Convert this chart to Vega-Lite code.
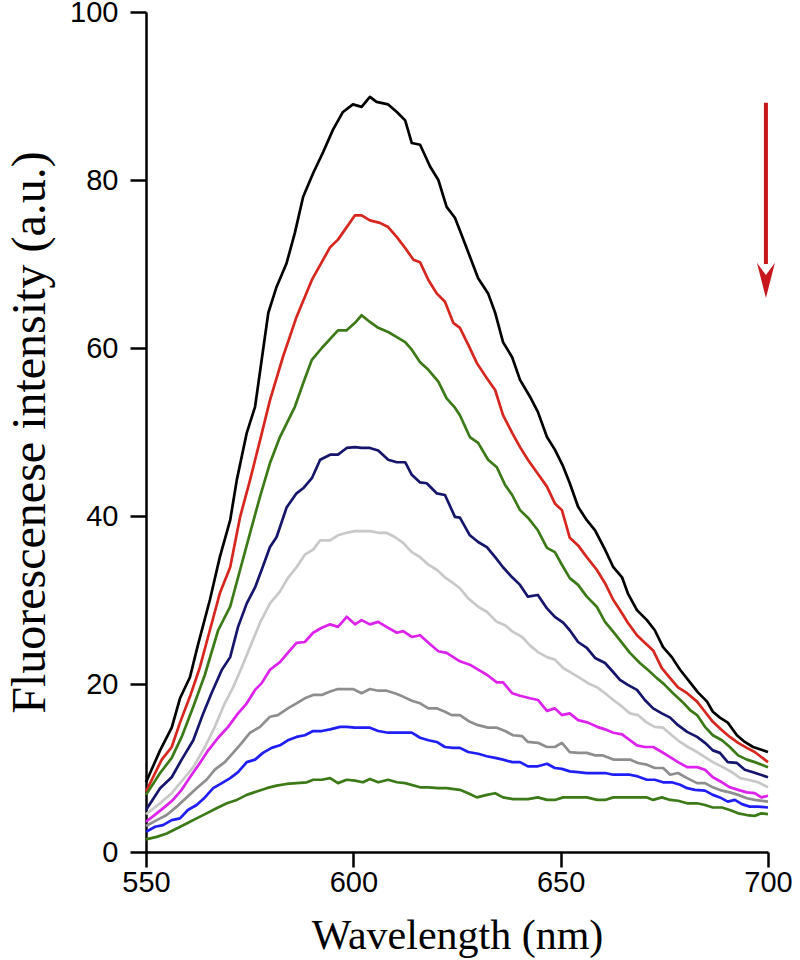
{
"$schema":"https://vega.github.io/schema/vega-lite/v6.json",
"width":622,"height":840,
"autosize":{"type":"none"},
"padding":{"left":146,"top":12,"right":32,"bottom":108},
"background":"white",
"config":{"view":{"stroke":null},
"axis":{"grid":false,"domainColor":"black","domainWidth":2.5,"tickColor":"black","tickWidth":2.5,"tickSize":15,"labelFont":"Liberation Sans","labelFontSize":29,"labelColor":"black","labelFlush":false,"titleFont":"Liberation Serif","titleFontWeight":"normal","titleColor":"black"}},
"datasets":{
"spectra":[
{"s":"c1","w":550,"v":8.3},{"s":"c1","w":553.4,"v":12.1},{"s":"c1","w":556.2,"v":14.8},{"s":"c1","w":558.2,"v":18.3},{"s":"c1","w":560.6,"v":20.8},{"s":"c1","w":562.5,"v":24.6},{"s":"c1","w":565.4,"v":30},{"s":"c1","w":567.8,"v":35.1},{"s":"c1","w":570.3,"v":39.5},{"s":"c1","w":571.9,"v":44.3},{"s":"c1","w":574.3,"v":49.9},{"s":"c1","w":576.3,"v":53},{"s":"c1","w":577.9,"v":58.6},{"s":"c1","w":579.5,"v":64.2},{"s":"c1","w":581.5,"v":67.3},{"s":"c1","w":583.9,"v":70.1},{"s":"c1","w":585.9,"v":73.7},{"s":"c1","w":587.9,"v":78},{"s":"c1","w":590.3,"v":80.8},{"s":"c1","w":592.7,"v":83.3},{"s":"c1","w":595.1,"v":86},{"s":"c1","w":597.5,"v":88.1},{"s":"c1","w":599.9,"v":89},{"s":"c1","w":602,"v":88.7},{"s":"c1","w":604,"v":89.9},{"s":"c1","w":605.6,"v":89.3},{"s":"c1","w":608.4,"v":89},{"s":"c1","w":610.5,"v":88.1},{"s":"c1","w":612.5,"v":87.1},{"s":"c1","w":614.1,"v":84.4},{"s":"c1","w":616.1,"v":84.2},{"s":"c1","w":618.5,"v":81.6},{"s":"c1","w":620.5,"v":80},{"s":"c1","w":622.5,"v":76.8},{"s":"c1","w":624.5,"v":75.5},{"s":"c1","w":625.7,"v":74},{"s":"c1","w":628.1,"v":70.9},{"s":"c1","w":630.1,"v":68.3},{"s":"c1","w":632.5,"v":66.5},{"s":"c1","w":634.2,"v":64.2},{"s":"c1","w":636.1,"v":60.7},{"s":"c1","w":638.3,"v":58.9},{"s":"c1","w":640.2,"v":56.2},{"s":"c1","w":642.6,"v":54.2},{"s":"c1","w":644.5,"v":52.4},{"s":"c1","w":646.7,"v":49.4},{"s":"c1","w":648.6,"v":47.9},{"s":"c1","w":650.6,"v":45.9},{"s":"c1","w":652.2,"v":43.9},{"s":"c1","w":654.2,"v":41.1},{"s":"c1","w":656.3,"v":39.5},{"s":"c1","w":658.3,"v":38.3},{"s":"c1","w":660.7,"v":36},{"s":"c1","w":662.7,"v":33.9},{"s":"c1","w":664.8,"v":32.7},{"s":"c1","w":666.2,"v":30.8},{"s":"c1","w":668.4,"v":28.8},{"s":"c1","w":670.8,"v":27.6},{"s":"c1","w":672.7,"v":26.4},{"s":"c1","w":674.7,"v":24.4},{"s":"c1","w":676.8,"v":23.2},{"s":"c1","w":678.8,"v":21.7},{"s":"c1","w":681.2,"v":20.2},{"s":"c1","w":683.1,"v":19},{"s":"c1","w":685.3,"v":17.9},{"s":"c1","w":686.7,"v":16.7},{"s":"c1","w":688.4,"v":16},{"s":"c1","w":690.3,"v":15.4},{"s":"c1","w":692.5,"v":13.9},{"s":"c1","w":694.4,"v":13.1},{"s":"c1","w":696.4,"v":12.5},{"s":"c1","w":700,"v":11.9},
{"s":"c2","w":550,"v":7.2},{"s":"c2","w":553.8,"v":11},{"s":"c2","w":556.2,"v":12.5},{"s":"c2","w":558.2,"v":15.4},{"s":"c2","w":560.6,"v":18.5},{"s":"c2","w":563,"v":22},{"s":"c2","w":565.4,"v":26.4},{"s":"c2","w":567.8,"v":30.8},{"s":"c2","w":570.3,"v":33.9},{"s":"c2","w":572.7,"v":39.9},{"s":"c2","w":575.1,"v":44.3},{"s":"c2","w":577.5,"v":49},{"s":"c2","w":579.9,"v":53.8},{"s":"c2","w":583,"v":58.9},{"s":"c2","w":586.3,"v":63.7},{"s":"c2","w":590,"v":68.1},{"s":"c2","w":594.4,"v":72},{"s":"c2","w":596.3,"v":72.9},{"s":"c2","w":600.4,"v":75.8},{"s":"c2","w":602,"v":75.8},{"s":"c2","w":604,"v":75.2},{"s":"c2","w":606.4,"v":74.9},{"s":"c2","w":608.4,"v":74.4},{"s":"c2","w":610.5,"v":73.2},{"s":"c2","w":612.5,"v":71.9},{"s":"c2","w":614.5,"v":70.5},{"s":"c2","w":616.1,"v":70.2},{"s":"c2","w":618.1,"v":68.1},{"s":"c2","w":620.1,"v":66.5},{"s":"c2","w":622.1,"v":65.5},{"s":"c2","w":624.1,"v":63},{"s":"c2","w":625.7,"v":62.4},{"s":"c2","w":627.7,"v":60.4},{"s":"c2","w":629.8,"v":58.2},{"s":"c2","w":632.2,"v":56.4},{"s":"c2","w":634.2,"v":55},{"s":"c2","w":636.1,"v":52},{"s":"c2","w":638.3,"v":49.9},{"s":"c2","w":640.2,"v":48.2},{"s":"c2","w":642.1,"v":46.7},{"s":"c2","w":644.4,"v":45.1},{"s":"c2","w":646.7,"v":43.5},{"s":"c2","w":648.6,"v":41.5},{"s":"c2","w":650.3,"v":40.7},{"s":"c2","w":652.2,"v":37.4},{"s":"c2","w":654.2,"v":36.5},{"s":"c2","w":656.3,"v":35.1},{"s":"c2","w":658.7,"v":33.6},{"s":"c2","w":660.7,"v":32},{"s":"c2","w":662.7,"v":30},{"s":"c2","w":664.3,"v":28.8},{"s":"c2","w":666.2,"v":27.3},{"s":"c2","w":668.4,"v":25.8},{"s":"c2","w":670.3,"v":24.9},{"s":"c2","w":672.3,"v":24},{"s":"c2","w":674.4,"v":21.9},{"s":"c2","w":676.4,"v":20.7},{"s":"c2","w":678.3,"v":19.6},{"s":"c2","w":680.5,"v":18.9},{"s":"c2","w":682.9,"v":17.9},{"s":"c2","w":684.8,"v":16.7},{"s":"c2","w":686.7,"v":15.5},{"s":"c2","w":688.9,"v":14.5},{"s":"c2","w":690.8,"v":13.7},{"s":"c2","w":692.8,"v":13},{"s":"c2","w":694.9,"v":12.4},{"s":"c2","w":696.8,"v":11.9},{"s":"c2","w":700,"v":10.7},
{"s":"c3","w":550,"v":6.8},{"s":"c3","w":553.4,"v":9.4},{"s":"c3","w":556.2,"v":11.2},{"s":"c3","w":558.6,"v":13.7},{"s":"c3","w":561.4,"v":17.3},{"s":"c3","w":564.2,"v":21.1},{"s":"c3","w":567.4,"v":26.4},{"s":"c3","w":570.3,"v":29.2},{"s":"c3","w":572.7,"v":33.6},{"s":"c3","w":575.1,"v":38},{"s":"c3","w":577.5,"v":42.3},{"s":"c3","w":579.9,"v":46.3},{"s":"c3","w":582.3,"v":49.4},{"s":"c3","w":585.9,"v":53},{"s":"c3","w":587.9,"v":55.8},{"s":"c3","w":590,"v":58.6},{"s":"c3","w":592.4,"v":60},{"s":"c3","w":594.8,"v":61.3},{"s":"c3","w":596.3,"v":62.1},{"s":"c3","w":598.4,"v":62.1},{"s":"c3","w":600.4,"v":63},{"s":"c3","w":602,"v":63.9},{"s":"c3","w":604,"v":63.1},{"s":"c3","w":606,"v":62.4},{"s":"c3","w":608.4,"v":61.9},{"s":"c3","w":610.5,"v":61.3},{"s":"c3","w":612.5,"v":60.7},{"s":"c3","w":614.1,"v":59.8},{"s":"c3","w":616.1,"v":58.3},{"s":"c3","w":618.1,"v":57.4},{"s":"c3","w":620.5,"v":56},{"s":"c3","w":622.5,"v":54},{"s":"c3","w":624.5,"v":52.9},{"s":"c3","w":625.7,"v":52},{"s":"c3","w":628.1,"v":49.4},{"s":"c3","w":630.1,"v":48.7},{"s":"c3","w":632.5,"v":46.7},{"s":"c3","w":634.6,"v":45.8},{"s":"c3","w":636.6,"v":43.7},{"s":"c3","w":638.3,"v":42.5},{"s":"c3","w":640.2,"v":40.7},{"s":"c3","w":642.1,"v":39.8},{"s":"c3","w":644.5,"v":38.3},{"s":"c3","w":646.7,"v":36.2},{"s":"c3","w":648.6,"v":35.7},{"s":"c3","w":650.3,"v":34.2},{"s":"c3","w":652.2,"v":32.6},{"s":"c3","w":654.2,"v":31.8},{"s":"c3","w":656.3,"v":30.4},{"s":"c3","w":658.7,"v":29.2},{"s":"c3","w":660.7,"v":27.4},{"s":"c3","w":662.7,"v":26.2},{"s":"c3","w":664.8,"v":24.9},{"s":"c3","w":666.7,"v":23.7},{"s":"c3","w":669.1,"v":22.5},{"s":"c3","w":671,"v":21.7},{"s":"c3","w":673.2,"v":20.7},{"s":"c3","w":675.1,"v":19.9},{"s":"c3","w":677.1,"v":18.9},{"s":"c3","w":679.3,"v":17.9},{"s":"c3","w":681.2,"v":16.9},{"s":"c3","w":682.9,"v":16.3},{"s":"c3","w":684.8,"v":14.9},{"s":"c3","w":686.7,"v":13.9},{"s":"c3","w":688.9,"v":13.3},{"s":"c3","w":690.8,"v":12.5},{"s":"c3","w":692.8,"v":11.5},{"s":"c3","w":694.9,"v":11},{"s":"c3","w":696.8,"v":10.7},{"s":"c3","w":700,"v":10.1},
{"s":"c4","w":550,"v":5},{"s":"c4","w":553.4,"v":7.6},{"s":"c4","w":556.2,"v":8.9},{"s":"c4","w":558.6,"v":11},{"s":"c4","w":561.4,"v":13.3},{"s":"c4","w":563.8,"v":16.5},{"s":"c4","w":565.8,"v":18.9},{"s":"c4","w":568.3,"v":21.7},{"s":"c4","w":570.3,"v":23.2},{"s":"c4","w":572.2,"v":26.8},{"s":"c4","w":574.3,"v":29.6},{"s":"c4","w":576.3,"v":31.5},{"s":"c4","w":577.9,"v":33.6},{"s":"c4","w":579.9,"v":36.3},{"s":"c4","w":581.5,"v":37.5},{"s":"c4","w":583.9,"v":41},{"s":"c4","w":586.3,"v":42.7},{"s":"c4","w":587.9,"v":43.3},{"s":"c4","w":590,"v":44.5},{"s":"c4","w":592,"v":46.7},{"s":"c4","w":594.4,"v":47.3},{"s":"c4","w":596.3,"v":47.3},{"s":"c4","w":598.4,"v":48.1},{"s":"c4","w":600.4,"v":48.2},{"s":"c4","w":602,"v":48.1},{"s":"c4","w":604,"v":48.1},{"s":"c4","w":606,"v":47.8},{"s":"c4","w":608.4,"v":46.7},{"s":"c4","w":610.5,"v":46.4},{"s":"c4","w":612.5,"v":46.4},{"s":"c4","w":614.1,"v":44.9},{"s":"c4","w":616.1,"v":44},{"s":"c4","w":617.7,"v":43.9},{"s":"c4","w":620.1,"v":42.7},{"s":"c4","w":622.1,"v":42.5},{"s":"c4","w":624.5,"v":39.9},{"s":"c4","w":625.7,"v":39.8},{"s":"c4","w":628.1,"v":37.7},{"s":"c4","w":630.1,"v":36.9},{"s":"c4","w":632.2,"v":36.3},{"s":"c4","w":634.2,"v":35.1},{"s":"c4","w":636.1,"v":33.9},{"s":"c4","w":638.3,"v":32.7},{"s":"c4","w":640.2,"v":31.8},{"s":"c4","w":642.1,"v":30.4},{"s":"c4","w":644.5,"v":30.6},{"s":"c4","w":646.7,"v":29},{"s":"c4","w":648.6,"v":28},{"s":"c4","w":650.6,"v":27.3},{"s":"c4","w":652.2,"v":26.4},{"s":"c4","w":654.2,"v":25},{"s":"c4","w":656.3,"v":24.3},{"s":"c4","w":658.3,"v":23.1},{"s":"c4","w":660.7,"v":22.5},{"s":"c4","w":662.7,"v":21.4},{"s":"c4","w":664.3,"v":20.5},{"s":"c4","w":666.2,"v":19.9},{"s":"c4","w":668.4,"v":19.3},{"s":"c4","w":670.3,"v":18.1},{"s":"c4","w":672.3,"v":17.1},{"s":"c4","w":674.4,"v":16.5},{"s":"c4","w":676.4,"v":16},{"s":"c4","w":678.3,"v":15.1},{"s":"c4","w":680.5,"v":14.3},{"s":"c4","w":682.9,"v":13.7},{"s":"c4","w":684.8,"v":13},{"s":"c4","w":686.7,"v":12.1},{"s":"c4","w":688.4,"v":11.8},{"s":"c4","w":690.3,"v":10.7},{"s":"c4","w":692.5,"v":10.6},{"s":"c4","w":694.4,"v":9.8},{"s":"c4","w":696.4,"v":9.5},{"s":"c4","w":700,"v":8.9},
{"s":"c5","w":550,"v":4.5},{"s":"c5","w":553.4,"v":5.8},{"s":"c5","w":556.2,"v":7},{"s":"c5","w":558.9,"v":8.6},{"s":"c5","w":561.4,"v":10.1},{"s":"c5","w":564.2,"v":12.5},{"s":"c5","w":566.6,"v":14.9},{"s":"c5","w":569,"v":17.7},{"s":"c5","w":571,"v":19.6},{"s":"c5","w":573.1,"v":22},{"s":"c5","w":575.1,"v":24.4},{"s":"c5","w":577.5,"v":27.3},{"s":"c5","w":579.9,"v":29.6},{"s":"c5","w":582.3,"v":31},{"s":"c5","w":584.2,"v":32.6},{"s":"c5","w":586.3,"v":33.9},{"s":"c5","w":588.3,"v":35.4},{"s":"c5","w":590.3,"v":36},{"s":"c5","w":592,"v":37.1},{"s":"c5","w":594.4,"v":37.1},{"s":"c5","w":596.3,"v":37.7},{"s":"c5","w":598.4,"v":38},{"s":"c5","w":600.4,"v":38.2},{"s":"c5","w":604,"v":38.2},{"s":"c5","w":606,"v":38},{"s":"c5","w":608,"v":38},{"s":"c5","w":610,"v":37.5},{"s":"c5","w":612,"v":36.8},{"s":"c5","w":614.1,"v":35.7},{"s":"c5","w":616.1,"v":35.1},{"s":"c5","w":618.1,"v":34.2},{"s":"c5","w":620.1,"v":33.6},{"s":"c5","w":622.1,"v":32.7},{"s":"c5","w":624.1,"v":32},{"s":"c5","w":625.7,"v":31.4},{"s":"c5","w":627.7,"v":30.2},{"s":"c5","w":630.1,"v":29.2},{"s":"c5","w":632.2,"v":28.6},{"s":"c5","w":634.6,"v":27.4},{"s":"c5","w":636.6,"v":27},{"s":"c5","w":638.5,"v":26.2},{"s":"c5","w":640.7,"v":25.6},{"s":"c5","w":642.6,"v":24.6},{"s":"c5","w":644.5,"v":23.8},{"s":"c5","w":646.7,"v":23.2},{"s":"c5","w":648.6,"v":22.9},{"s":"c5","w":650.6,"v":21.9},{"s":"c5","w":652.7,"v":21.3},{"s":"c5","w":654.7,"v":20.7},{"s":"c5","w":656.6,"v":20.1},{"s":"c5","w":658.8,"v":19.6},{"s":"c5","w":660.7,"v":18.9},{"s":"c5","w":662.7,"v":18.1},{"s":"c5","w":664.8,"v":17.3},{"s":"c5","w":666.7,"v":16.5},{"s":"c5","w":668.6,"v":16.3},{"s":"c5","w":670.8,"v":15.4},{"s":"c5","w":672.7,"v":14.9},{"s":"c5","w":674.7,"v":14.8},{"s":"c5","w":676.8,"v":13.9},{"s":"c5","w":678.8,"v":13.1},{"s":"c5","w":680.7,"v":12.5},{"s":"c5","w":682.9,"v":11.9},{"s":"c5","w":684.8,"v":11.3},{"s":"c5","w":686.7,"v":10.7},{"s":"c5","w":689.1,"v":10.1},{"s":"c5","w":691.3,"v":9.5},{"s":"c5","w":693.3,"v":8.8},{"s":"c5","w":695.2,"v":8.6},{"s":"c5","w":697.6,"v":8.3},{"s":"c5","w":700,"v":7.7},
{"s":"c6","w":550,"v":3.6},{"s":"c6","w":552.6,"v":4.6},{"s":"c6","w":554.6,"v":5.4},{"s":"c6","w":556.5,"v":6.2},{"s":"c6","w":558.6,"v":7.4},{"s":"c6","w":560.6,"v":8.9},{"s":"c6","w":563,"v":10.6},{"s":"c6","w":565,"v":12.1},{"s":"c6","w":567.4,"v":13.6},{"s":"c6","w":569.8,"v":14.9},{"s":"c6","w":572.2,"v":16.5},{"s":"c6","w":574.3,"v":17.7},{"s":"c6","w":576.3,"v":19.3},{"s":"c6","w":577.9,"v":20.1},{"s":"c6","w":579.9,"v":21.7},{"s":"c6","w":582.3,"v":22.6},{"s":"c6","w":584.2,"v":23.7},{"s":"c6","w":586.3,"v":24.9},{"s":"c6","w":588.3,"v":25},{"s":"c6","w":590.3,"v":26.1},{"s":"c6","w":592.4,"v":26.7},{"s":"c6","w":594.4,"v":27.1},{"s":"c6","w":596.3,"v":26.8},{"s":"c6","w":598.4,"v":28},{"s":"c6","w":600.4,"v":27.1},{"s":"c6","w":602,"v":27.6},{"s":"c6","w":604,"v":27.1},{"s":"c6","w":606,"v":27.4},{"s":"c6","w":608,"v":26.8},{"s":"c6","w":610.5,"v":26.1},{"s":"c6","w":612,"v":26.3},{"s":"c6","w":614.1,"v":25.6},{"s":"c6","w":616.1,"v":25.8},{"s":"c6","w":618.1,"v":24.9},{"s":"c6","w":620.5,"v":23.9},{"s":"c6","w":622.5,"v":23.7},{"s":"c6","w":625.7,"v":22.7},{"s":"c6","w":628.1,"v":22.3},{"s":"c6","w":630.1,"v":21.7},{"s":"c6","w":632.2,"v":21.1},{"s":"c6","w":634.6,"v":20.2},{"s":"c6","w":636.1,"v":20.2},{"s":"c6","w":638.3,"v":18.9},{"s":"c6","w":640.2,"v":18.6},{"s":"c6","w":642.6,"v":18.3},{"s":"c6","w":644.5,"v":18.1},{"s":"c6","w":646.7,"v":16.8},{"s":"c6","w":648.6,"v":17.1},{"s":"c6","w":650.3,"v":16.3},{"s":"c6","w":652.2,"v":16.5},{"s":"c6","w":654.2,"v":15.7},{"s":"c6","w":656.6,"v":15.4},{"s":"c6","w":658.8,"v":14.9},{"s":"c6","w":660.7,"v":14.6},{"s":"c6","w":662.7,"v":14.2},{"s":"c6","w":664.8,"v":14},{"s":"c6","w":666.2,"v":13.5},{"s":"c6","w":668.4,"v":12.7},{"s":"c6","w":670.3,"v":12.5},{"s":"c6","w":672.3,"v":12.5},{"s":"c6","w":674.4,"v":11.9},{"s":"c6","w":676.4,"v":11.3},{"s":"c6","w":678.3,"v":10.7},{"s":"c6","w":680.5,"v":10.1},{"s":"c6","w":682.9,"v":10.1},{"s":"c6","w":684.8,"v":9.8},{"s":"c6","w":686.7,"v":8.9},{"s":"c6","w":688.9,"v":8.3},{"s":"c6","w":690.8,"v":7.7},{"s":"c6","w":692.8,"v":7.4},{"s":"c6","w":694.9,"v":7.1},{"s":"c6","w":696.8,"v":7},{"s":"c6","w":698.4,"v":6.5},{"s":"c6","w":700,"v":6.7},
{"s":"c7","w":550,"v":3.1},{"s":"c7","w":552.6,"v":3.8},{"s":"c7","w":555,"v":4.4},{"s":"c7","w":557.4,"v":5.4},{"s":"c7","w":559.8,"v":6.5},{"s":"c7","w":562.2,"v":7.6},{"s":"c7","w":564.6,"v":8.6},{"s":"c7","w":566.6,"v":9.8},{"s":"c7","w":569,"v":10.7},{"s":"c7","w":571,"v":11.8},{"s":"c7","w":573.1,"v":13},{"s":"c7","w":575.1,"v":14.2},{"s":"c7","w":577.5,"v":14.9},{"s":"c7","w":579.9,"v":16.1},{"s":"c7","w":581.8,"v":16.3},{"s":"c7","w":584.2,"v":17.1},{"s":"c7","w":586.3,"v":17.7},{"s":"c7","w":588.3,"v":18.3},{"s":"c7","w":590.3,"v":18.7},{"s":"c7","w":592.4,"v":18.7},{"s":"c7","w":594.4,"v":19.1},{"s":"c7","w":596.3,"v":19.4},{"s":"c7","w":599.9,"v":19.4},{"s":"c7","w":602,"v":18.9},{"s":"c7","w":604,"v":19.4},{"s":"c7","w":606,"v":19.2},{"s":"c7","w":608,"v":19.2},{"s":"c7","w":610,"v":18.9},{"s":"c7","w":612,"v":18.5},{"s":"c7","w":614.1,"v":18},{"s":"c7","w":616.1,"v":17.7},{"s":"c7","w":618.1,"v":17.1},{"s":"c7","w":620.1,"v":17.1},{"s":"c7","w":622.1,"v":16.7},{"s":"c7","w":623.7,"v":16.3},{"s":"c7","w":625.7,"v":16.3},{"s":"c7","w":628.1,"v":15.5},{"s":"c7","w":630.1,"v":15.1},{"s":"c7","w":632.5,"v":14.8},{"s":"c7","w":634.6,"v":14.8},{"s":"c7","w":636.6,"v":14.4},{"s":"c7","w":638.5,"v":13.9},{"s":"c7","w":640.7,"v":13.8},{"s":"c7","w":642.1,"v":13.1},{"s":"c7","w":644.5,"v":13},{"s":"c7","w":646.7,"v":12.5},{"s":"c7","w":648.6,"v":12.5},{"s":"c7","w":650.3,"v":13},{"s":"c7","w":652.2,"v":11.9},{"s":"c7","w":654.2,"v":11.8},{"s":"c7","w":656.3,"v":11.8},{"s":"c7","w":658.3,"v":11.5},{"s":"c7","w":660.2,"v":11.5},{"s":"c7","w":662.7,"v":11},{"s":"c7","w":664.8,"v":11},{"s":"c7","w":666.7,"v":11},{"s":"c7","w":668.6,"v":10.6},{"s":"c7","w":670.8,"v":10.4},{"s":"c7","w":672.7,"v":10},{"s":"c7","w":674.7,"v":10},{"s":"c7","w":676.4,"v":9.2},{"s":"c7","w":678.3,"v":9.4},{"s":"c7","w":680.5,"v":8.8},{"s":"c7","w":682.9,"v":8.2},{"s":"c7","w":684.8,"v":8.2},{"s":"c7","w":686.7,"v":7.7},{"s":"c7","w":688.9,"v":7.3},{"s":"c7","w":690.8,"v":7.1},{"s":"c7","w":692.8,"v":6.8},{"s":"c7","w":694.9,"v":6.4},{"s":"c7","w":696.8,"v":6.2},{"s":"c7","w":700,"v":6},
{"s":"c8","w":550,"v":2.4},{"s":"c8","w":552.2,"v":3},{"s":"c8","w":554.1,"v":3.2},{"s":"c8","w":556.2,"v":3.8},{"s":"c8","w":558.2,"v":4},{"s":"c8","w":560.1,"v":5},{"s":"c8","w":562.2,"v":5.6},{"s":"c8","w":564.2,"v":6.5},{"s":"c8","w":566.2,"v":7.6},{"s":"c8","w":568.3,"v":8.2},{"s":"c8","w":570.3,"v":8.8},{"s":"c8","w":572.2,"v":9.5},{"s":"c8","w":574.3,"v":10.7},{"s":"c8","w":576.3,"v":11},{"s":"c8","w":578.2,"v":11.8},{"s":"c8","w":580.3,"v":12.4},{"s":"c8","w":582.3,"v":12.7},{"s":"c8","w":584.2,"v":13.3},{"s":"c8","w":586.3,"v":13.7},{"s":"c8","w":588.3,"v":13.9},{"s":"c8","w":590.3,"v":14.4},{"s":"c8","w":592.4,"v":14.4},{"s":"c8","w":594.4,"v":14.6},{"s":"c8","w":596.8,"v":14.9},{"s":"c8","w":598.4,"v":14.9},{"s":"c8","w":600.4,"v":14.8},{"s":"c8","w":604,"v":14.8},{"s":"c8","w":606,"v":14.4},{"s":"c8","w":608.4,"v":14.2},{"s":"c8","w":614.1,"v":14.2},{"s":"c8","w":616.1,"v":13.6},{"s":"c8","w":618.1,"v":13.3},{"s":"c8","w":620.1,"v":13.1},{"s":"c8","w":622.1,"v":12.5},{"s":"c8","w":624.1,"v":12.4},{"s":"c8","w":625.7,"v":12.4},{"s":"c8","w":627.7,"v":11.9},{"s":"c8","w":630.1,"v":11.7},{"s":"c8","w":632.2,"v":11.4},{"s":"c8","w":634.2,"v":11.2},{"s":"c8","w":636.1,"v":11},{"s":"c8","w":638.3,"v":10.7},{"s":"c8","w":640.2,"v":10.7},{"s":"c8","w":642.1,"v":10.2},{"s":"c8","w":644.5,"v":10.2},{"s":"c8","w":646.7,"v":10.5},{"s":"c8","w":648.6,"v":10},{"s":"c8","w":650.3,"v":9.9},{"s":"c8","w":652.2,"v":9.6},{"s":"c8","w":654.2,"v":9.5},{"s":"c8","w":656.3,"v":9.4},{"s":"c8","w":660.7,"v":9.4},{"s":"c8","w":662.7,"v":9.2},{"s":"c8","w":666.7,"v":9.2},{"s":"c8","w":668.6,"v":9},{"s":"c8","w":670.8,"v":8.6},{"s":"c8","w":672.7,"v":8.6},{"s":"c8","w":674.7,"v":8.3},{"s":"c8","w":676.8,"v":8.3},{"s":"c8","w":678.8,"v":8},{"s":"c8","w":680.5,"v":7.6},{"s":"c8","w":682.4,"v":7.4},{"s":"c8","w":684.8,"v":7.3},{"s":"c8","w":686.7,"v":6.8},{"s":"c8","w":688.4,"v":6.5},{"s":"c8","w":690.3,"v":6},{"s":"c8","w":692,"v":6.2},{"s":"c8","w":693.7,"v":5.7},{"s":"c8","w":695.6,"v":5.4},{"s":"c8","w":697.6,"v":5.4},{"s":"c8","w":700,"v":5.3},
{"s":"c9","w":550,"v":1.5},{"s":"c9","w":552.6,"v":1.8},{"s":"c9","w":555,"v":2.2},{"s":"c9","w":557.4,"v":2.8},{"s":"c9","w":559.8,"v":3.4},{"s":"c9","w":562.2,"v":4},{"s":"c9","w":564.6,"v":4.6},{"s":"c9","w":567,"v":5.2},{"s":"c9","w":569.5,"v":5.8},{"s":"c9","w":571.9,"v":6.2},{"s":"c9","w":574.3,"v":6.8},{"s":"c9","w":576.7,"v":7.2},{"s":"c9","w":579.1,"v":7.6},{"s":"c9","w":581.5,"v":7.9},{"s":"c9","w":583.9,"v":8.1},{"s":"c9","w":586.3,"v":8.2},{"s":"c9","w":588.8,"v":8.3},{"s":"c9","w":590.3,"v":8.6},{"s":"c9","w":592.4,"v":8.6},{"s":"c9","w":594.4,"v":8.8},{"s":"c9","w":596.3,"v":8.2},{"s":"c9","w":598.4,"v":8.6},{"s":"c9","w":600.4,"v":8.5},{"s":"c9","w":602.3,"v":8.3},{"s":"c9","w":604,"v":8.7},{"s":"c9","w":606,"v":8.3},{"s":"c9","w":608.4,"v":8.6},{"s":"c9","w":610.5,"v":8.3},{"s":"c9","w":612.5,"v":8.2},{"s":"c9","w":616.1,"v":7.7},{"s":"c9","w":618.1,"v":7.7},{"s":"c9","w":620.5,"v":7.6},{"s":"c9","w":622.5,"v":7.6},{"s":"c9","w":625.7,"v":7.4},{"s":"c9","w":627.7,"v":7},{"s":"c9","w":629.8,"v":6.5},{"s":"c9","w":632.2,"v":6.8},{"s":"c9","w":634.2,"v":7},{"s":"c9","w":636.1,"v":6.5},{"s":"c9","w":638.5,"v":6.3},{"s":"c9","w":642.1,"v":6.3},{"s":"c9","w":644.5,"v":6.5},{"s":"c9","w":646.7,"v":6.2},{"s":"c9","w":648.6,"v":6.2},{"s":"c9","w":650.6,"v":6.5},{"s":"c9","w":656.3,"v":6.5},{"s":"c9","w":658.8,"v":6.2},{"s":"c9","w":660.7,"v":6.2},{"s":"c9","w":662.7,"v":6.5},{"s":"c9","w":670.8,"v":6.5},{"s":"c9","w":672.3,"v":6.2},{"s":"c9","w":674.4,"v":6.5},{"s":"c9","w":676.4,"v":6.2},{"s":"c9","w":678.3,"v":6.1},{"s":"c9","w":680.5,"v":5.8},{"s":"c9","w":682.9,"v":5.8},{"s":"c9","w":684.8,"v":5.6},{"s":"c9","w":686.7,"v":5.3},{"s":"c9","w":688.9,"v":5.3},{"s":"c9","w":690.8,"v":5},{"s":"c9","w":692.8,"v":4.6},{"s":"c9","w":694.9,"v":4.4},{"s":"c9","w":696.8,"v":4.3},{"s":"c9","w":698.4,"v":4.6},{"s":"c9","w":700,"v":4.5}
],
"arrow":[{"w":699.5,"top":89.2,"bottom":70,"head":68.1}]
},
"layer":[
{"data":{"name":"spectra"},
"mark":{"type":"line","strokeWidth":2.7,"strokeJoin":"round"},
"encoding":{
"x":{"field":"w","type":"quantitative","scale":{"domain":[550,700],"nice":false,"zero":false},
"axis":{"values":[550,600,650,700],"tickSize":15,"labelPadding":1,"title":"Wavelength (nm)","titleFontSize":42,"titleBaseline":"alphabetic","titleY":96}},
"y":{"field":"v","type":"quantitative","scale":{"domain":[0,100],"nice":false},
"axis":{"values":[0,20,40,60,80,100],"tickSize":16,"labelPadding":12,"title":"Fluorescenese intensity (a.u.)","titleFontSize":48,"titleBaseline":"alphabetic","titleX":-102,"titleAngle":-90}},
"color":{"field":"s","type":"nominal","legend":null,
"scale":{"domain":["c1","c2","c3","c4","c5","c6","c7","c8","c9"],
"range":["#000000","#d7261e","#3b7a17","#15156b","#c8c8c8","#dd22ee","#8e8e8e","#1f1ff5","#3b7a17"]}}
}},
{"data":{"name":"arrow"},
"mark":{"type":"rule","color":"#c8161d","strokeWidth":4},
"encoding":{"x":{"field":"w","type":"quantitative"},"y":{"field":"top","type":"quantitative"},"y2":{"field":"bottom"}}},
{"data":{"name":"arrow"},
"mark":{"type":"point","shape":"M0,2 L-1,-1.9 L0,-0.55 L1,-1.9 Z","filled":true,"size":324,"color":"#c8161d","opacity":1,"strokeWidth":0},
"encoding":{"x":{"field":"w","type":"quantitative"},"y":{"field":"head","type":"quantitative"}}}
]
}
